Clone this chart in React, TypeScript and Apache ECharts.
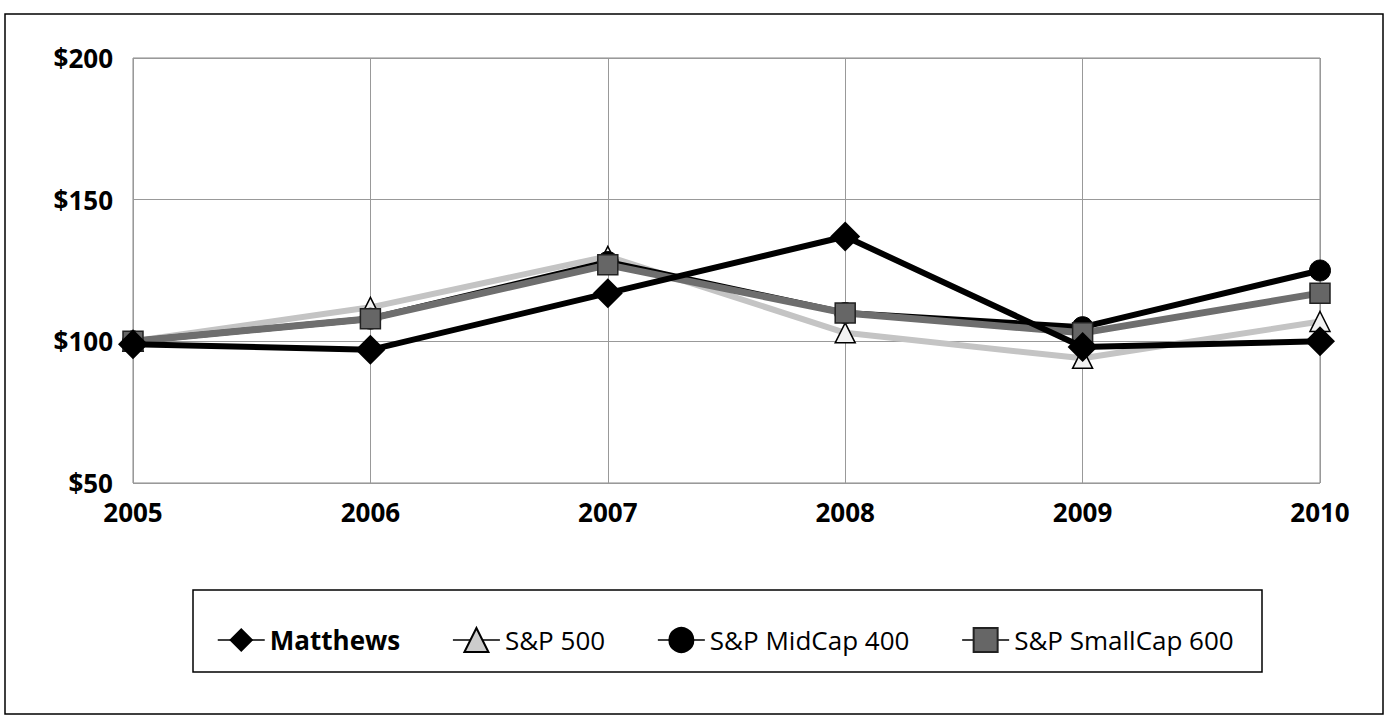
import React, { useEffect, useRef } from "react";
import * as echarts from "echarts";

const years = ["2005", "2006", "2007", "2008", "2009", "2010"];
const matthews = [99, 97, 117, 137, 98, 100];
const sp500 = [100, 112, 130, 103, 94, 107];
const midcap = [100, 108, 128, 110, 105, 125];
const smallcap = [100, 108, 127, 110, 103, 117];

const FONT = "'Open Sans', 'Noto Sans', sans-serif";

export default function App() {
  const ref = useRef<HTMLDivElement>(null);
  useEffect(() => {
    if (!ref.current) return;
    const chart = echarts.init(ref.current, null, { renderer: "svg" });
    chart.setOption({
      animation: false,
      backgroundColor: "#fff",
      grid: { left: 133, right: 67, top: 58, bottom: 239, show: true, borderColor: "#888", borderWidth: 1 },
      xAxis: {
        type: "category",
        data: years,
        boundaryGap: false,
        axisLine: { show: false },
        axisTick: { show: false },
        splitLine: { show: true, lineStyle: { color: "#999", width: 1 } },
        axisLabel: { color: "#000", fontFamily: FONT, fontWeight: "bold", fontSize: 26, margin: 16 },
      },
      yAxis: {
        type: "value",
        min: 50,
        max: 200,
        interval: 50,
        axisLine: { show: false },
        axisTick: { show: false },
        splitLine: { show: true, lineStyle: { color: "#999", width: 1 } },
        axisLabel: { color: "#000", fontFamily: FONT, fontWeight: "bold", fontSize: 26, margin: 20, formatter: (v: number) => "$" + v },
      },
      legend: {
        left: 212,
        top: 622,
        itemWidth: 47,
        itemHeight: 30,
        itemGap: 52,
        textStyle: { color: "#000", fontFamily: FONT, fontSize: 26 },
        lineStyle: { color: "#000", width: 1.5 },
        data: [
          { name: "Matthews", textStyle: { fontWeight: "bold" } },
          { name: "S&P 500", itemStyle: { color: "#ccc" } },
          { name: "S&P MidCap 400" },
          { name: "S&P SmallCap 600" },
        ],
      },
      graphic: [
        { type: "rect", shape: { x: 5, y: 14, width: 1378, height: 700 }, style: { fill: "none", stroke: "#000", lineWidth: 1.5 }, silent: true },
        { type: "rect", shape: { x: 193, y: 590, width: 1069, height: 82 }, style: { fill: "none", stroke: "#000", lineWidth: 1.5 }, silent: true },
      ],
      series: [
        {
          name: "S&P 500",
          type: "line",
          data: sp500,
          z: 2,
          symbol: "triangle",
          symbolSize: 20,
          lineStyle: { color: "#c4c4c4", width: 6 },
          itemStyle: { color: "#f2f2f2", borderColor: "#000", borderWidth: 1.5 },
        },
        {
          name: "S&P MidCap 400",
          type: "line",
          data: midcap,
          z: 3,
          symbol: "circle",
          symbolSize: 21,
          lineStyle: { color: "#000", width: 6 },
          itemStyle: { color: "#000", borderColor: "#000", borderWidth: 1 },
        },
        {
          name: "S&P SmallCap 600",
          type: "line",
          data: smallcap,
          z: 4,
          symbol: "rect",
          symbolSize: 20,
          lineStyle: { color: "#6e6e6e", width: 7 },
          itemStyle: { color: "#666", borderColor: "#222", borderWidth: 1.5 },
        },
        {
          name: "Matthews",
          type: "line",
          data: matthews,
          z: 5,
          symbol: "diamond",
          symbolSize: 30,
          lineStyle: { color: "#000", width: 6 },
          itemStyle: { color: "#000" },
        },
      ],
    });
    return () => chart.dispose();
  }, []);
  return <div ref={ref} style={{ position: "fixed", left: 0, top: 0, width: 1387, height: 722 }} />;
}
